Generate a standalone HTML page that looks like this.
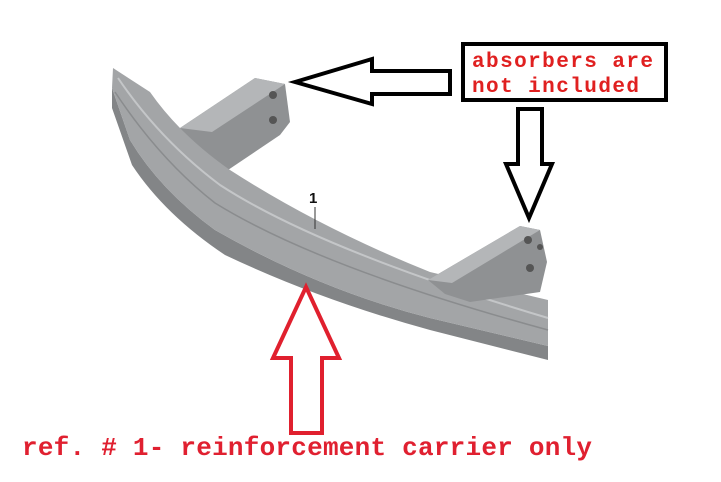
<!DOCTYPE html>
<html><head><style>
html,body{margin:0;padding:0;background:#fff;}
svg{display:block;}
</style></head><body>
<svg width="721" height="482" viewBox="0 0 721 482" xmlns="http://www.w3.org/2000/svg">
<!-- left bracket -->
<polygon points="180,128 255,78 285,84 290,122 280,135 225,172 190,160" fill="#8f9193"/>
<polygon points="180,128 255,78 285,84 212,132" fill="#b4b6b8"/>
<circle cx="273" cy="95" r="4" fill="#555"/><circle cx="273" cy="120" r="4" fill="#555"/>
<!-- beam lower face -->
<path d="M112,88 L130,140 Q160,190 215,230 Q320,290 430,318 L548,346 L548,360 L430,330 Q320,300 225,255 Q165,215 132,165 L112,108 Z" fill="#838587"/>
<!-- beam front face -->
<path d="M113,68 L150,92 Q180,135 230,170 Q320,228 430,272 L548,300 L548,346 L430,318 Q320,290 215,230 Q160,190 130,140 L112,88 Z" fill="#a3a5a7"/>
<path d="M118,78 Q160,140 220,185 Q320,250 548,318" fill="none" stroke="#c4c6c8" stroke-width="2"/>
<path d="M115,92 Q160,160 215,203 Q320,268 548,330" fill="none" stroke="#8a8c8e" stroke-width="1.5"/>
<!-- right bracket -->
<polygon points="428,280 520,226 540,230 547,262 540,292 470,302 445,294" fill="#8f9193"/>
<polygon points="428,280 520,226 540,230 452,283" fill="#b4b6b8"/>
<circle cx="528" cy="240" r="4" fill="#555"/><circle cx="540" cy="247" r="3" fill="#555"/><circle cx="530" cy="268" r="4" fill="#555"/>
<!-- label 1 -->
<text x="309" y="203" font-family="Liberation Sans, sans-serif" font-weight="bold" font-size="15" fill="#111">1</text>
<line x1="315" y1="207" x2="315" y2="229" stroke="#333" stroke-width="1"/>
<!-- left black arrow -->
<polygon points="295,82 372,59 372,71 450,71 450,94 372,94 372,104" fill="#fff" stroke="#000" stroke-width="4" stroke-linejoin="miter"/>
<!-- box -->
<rect x="463" y="44" width="203" height="56" fill="#fff" stroke="#000" stroke-width="4"/>
<text x="472" y="67" font-family="Liberation Mono, monospace" font-size="21" font-weight="bold" fill="#e02020" textLength="181">absorbers are</text>
<text x="472" y="92" font-family="Liberation Mono, monospace" font-size="21" font-weight="bold" fill="#e02020" textLength="167">not included</text>
<!-- down black arrow -->
<polygon points="518,109 542,109 542,164 552,164 529,218 506,164 518,164" fill="#fff" stroke="#000" stroke-width="4"/>
<!-- red arrow -->
<polygon points="306,287 339,358 322,358 322,433 291,433 291,358 273,358" fill="#fff" stroke="#e0202e" stroke-width="4"/>
<text x="22" y="455" font-family="Liberation Mono, monospace" font-size="26" font-weight="bold" fill="#e02030" textLength="570">ref. # 1- reinforcement carrier only</text>
</svg>
</body></html>
